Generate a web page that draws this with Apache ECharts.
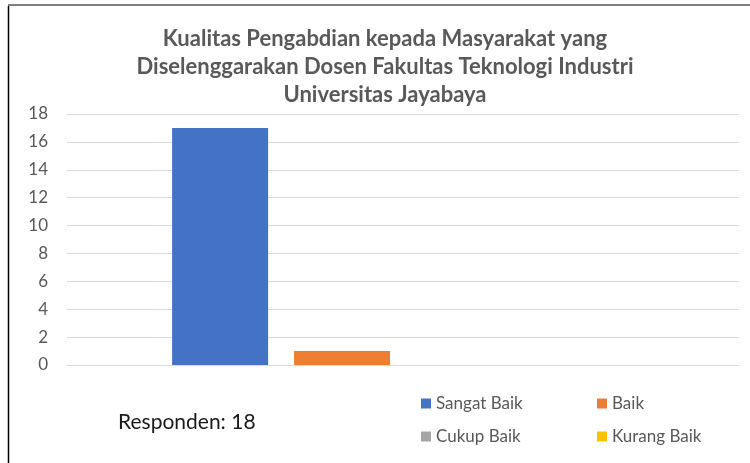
<!DOCTYPE html>
<html>
<head>
<meta charset="utf-8">
<script src="https://cdn.jsdelivr.net/npm/echarts@6/dist/echarts.min.js"></script>
<style>
  html, body { margin: 0; padding: 0; background: #fff; }
  #main { width: 750px; height: 463px; }
</style>
</head>
<body>
<div id="main"></div>
<script>
// data
var categories = ['Kualitas'];
var seriesNames = ['Sangat Baik', 'Baik', 'Cukup Baik', 'Kurang Baik'];
var seriesColors = ['#4472c4', '#ed7d31', '#a5a5a5', '#ffc000'];
var sangatBaik = [17];
var baik = [1];
var cukupBaik = [0];
var kurangBaik = [0];
var yTicks = [0, 2, 4, 6, 8, 10, 12, 14, 16, 18];

var myChart = echarts.init(document.getElementById('main'));

var values = [sangatBaik, baik, cukupBaik, kurangBaik];
var series = seriesNames.map(function (name, i) {
  return {
    name: name,
    type: 'bar',
    data: values[i],
    barWidth: 96,
    barGap: '27%',
    itemStyle: { color: seriesColors[i] }
  };
});

var legendText = { color: '#595959', fontSize: 17, fontFamily: 'Lato' };

var option = {
  animation: false,
  title: {
    text: 'Kualitas Pengabdian kepada Masyarakat yang\nDiselenggarakan Dosen Fakultas Teknologi Industri\nUniversitas Jayabaya',
    left: 380,
    textAlign: 'center',
    top: 20,
    textStyle: {
      color: '#595959',
      fontSize: 22,
      fontWeight: 'bold',
      fontFamily: 'Lato',
      lineHeight: 28
    }
  },
  legend: [
    {
      data: ['Sangat Baik', 'Cukup Baik'],
      orient: 'vertical',
      left: 416,
      top: 390,
      itemWidth: 10,
      itemHeight: 10,
      itemGap: 16,
      icon: 'rect',
      textStyle: legendText
    },
    {
      data: ['Baik', 'Kurang Baik'],
      orient: 'vertical',
      left: 592,
      top: 390,
      itemWidth: 10,
      itemHeight: 10,
      itemGap: 16,
      icon: 'rect',
      textStyle: legendText
    }
  ],
  grid: { left: 67, right: 11, top: 114, bottom: 98 },
  xAxis: {
    type: 'category',
    data: categories,
    axisLine: { lineStyle: { color: '#d9d9d9' } },
    axisTick: { show: false },
    axisLabel: { show: false }
  },
  yAxis: {
    type: 'value',
    min: yTicks[0],
    max: yTicks[yTicks.length - 1],
    interval: 2,
    axisLine: { show: false },
    axisTick: { show: false },
    axisLabel: { color: '#595959', fontSize: 17, fontFamily: 'Lato', margin: 19 },
    splitLine: { lineStyle: { color: '#d9d9d9', width: 1 } }
  },
  graphic: [
    {
      type: 'line',
      shape: { x1: 8, y1: 5, x2: 750, y2: 5 },
      style: { stroke: '#7f7f7f', lineWidth: 2 },
      silent: true
    },
    {
      type: 'line',
      shape: { x1: 8.5, y1: 6, x2: 8.5, y2: 463 },
      style: { stroke: '#000', lineWidth: 1.5 },
      silent: true
    },
    {
      type: 'text',
      left: 118,
      top: 412,
      style: { text: 'Responden: 18', fill: '#1a1a1a', fontSize: 21, fontFamily: 'Lato' }
    }
  ],
  series: series
};

myChart.setOption(option);
</script>
</body>
</html>
